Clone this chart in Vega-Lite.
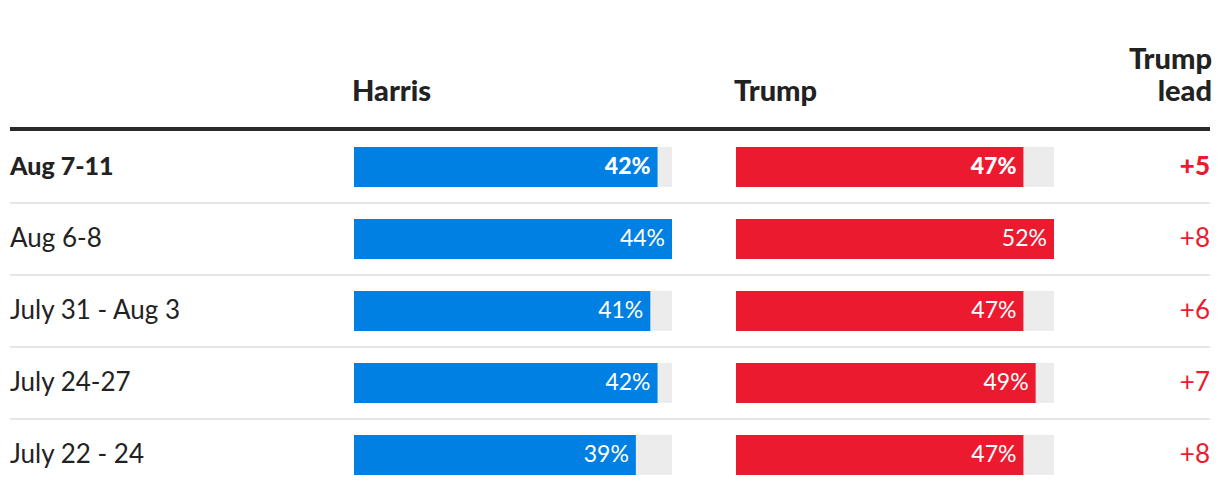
{
  "$schema": "https://vega.github.io/schema/vega-lite/v6.json",
  "background": "white",
  "padding": {"left": 8, "right": 8, "top": 46, "bottom": 6},
  "bounds": "flush",
  "spacing": 0,
  "config": {
    "view": {"stroke": null},
    "font": "Lato",
    "title": {"font": "Lato", "fontSize": 29, "fontWeight": 900, "color": "#222222", "lineHeight": 32, "offset": 20, "baseline": "alphabetic"}
  },
  "data": {
    "values": [
      {"label": "Aug 7-11", "harris": 0.42, "trump": 0.47, "lead": 5},
      {"label": "Aug 6-8", "harris": 0.44, "trump": 0.52, "lead": 8},
      {"label": "July 31 - Aug 3", "harris": 0.41, "trump": 0.47, "lead": 6},
      {"label": "July 24-27", "harris": 0.42, "trump": 0.49, "lead": 7},
      {"label": "July 22 - 24", "harris": 0.39, "trump": 0.47, "lead": 8}
    ]
  },
  "hconcat": [
    {
      "width": 344,
      "height": 360,
      "layer": [
        {"mark": {"type": "rule", "color": "#2b2b2b", "strokeWidth": 4, "yOffset": -2},
         "transform": [{"filter": "datum.label === 'Aug 7-11'"}],
         "encoding": {"y": {"field": "label", "type": "nominal", "bandPosition": 0, "axis": null, "scale": {"type": "band", "domain": ["Aug 7-11", "Aug 6-8", "July 31 - Aug 3", "July 24-27", "July 22 - 24"], "paddingInner": 0, "paddingOuter": 0}}}},
        {"mark": {"type": "rule", "color": "#e6e6e6", "strokeWidth": 2},
         "transform": [{"filter": "datum.label !== 'July 22 - 24'"}],
         "encoding": {"y": {"field": "label", "type": "nominal", "bandPosition": 1, "axis": null}}},
        {"mark": {"type": "text", "align": "left", "baseline": "middle", "fontSize": 25, "fontWeight": 900, "color": "#222222"},
         "transform": [{"filter": "datum.label === 'Aug 7-11'"}],
         "encoding": {"y": {"field": "label", "type": "nominal", "axis": null}, "x": {"value": 0}, "text": {"field": "label"}}},
        {"mark": {"type": "text", "align": "left", "baseline": "middle", "fontSize": 26, "color": "#222222"},
         "transform": [{"filter": "datum.label !== 'Aug 7-11'"}],
         "encoding": {"y": {"field": "label", "type": "nominal", "axis": null}, "x": {"value": 0}, "text": {"field": "label"}}}
      ]
    },
    {
      "width": 382,
      "height": 360,
      "title": {"text": "Harris", "anchor": "start"},
      "transform": [{"joinaggregate": [{"op": "max", "field": "harris", "as": "hmax"}]}],
      "layer": [
        {"mark": {"type": "rule", "color": "#2b2b2b", "strokeWidth": 4, "yOffset": -2},
         "transform": [{"filter": "datum.label === 'Aug 7-11'"}],
         "encoding": {"y": {"field": "label", "type": "nominal", "bandPosition": 0, "axis": null, "scale": {"type": "band", "domain": ["Aug 7-11", "Aug 6-8", "July 31 - Aug 3", "July 24-27", "July 22 - 24"], "paddingInner": 0, "paddingOuter": 0}}}},
        {"mark": {"type": "rule", "color": "#e6e6e6", "strokeWidth": 2},
         "transform": [{"filter": "datum.label !== 'July 22 - 24'"}],
         "encoding": {"y": {"field": "label", "type": "nominal", "bandPosition": 1, "axis": null}}},
        {"mark": {"type": "bar", "color": "#ececec", "height": 40},
         "encoding": {"y": {"field": "label", "type": "nominal", "axis": null}, "x": {"field": "hmax", "type": "quantitative", "axis": null, "scale": {"domain": [0, 0.52855], "nice": false, "zero": true}}}},
        {"mark": {"type": "bar", "color": "#0080e3", "height": 40},
         "encoding": {"y": {"field": "label", "type": "nominal", "axis": null}, "x": {"field": "harris", "type": "quantitative", "axis": null}}},
        {"mark": {"type": "text", "align": "right", "baseline": "middle", "dx": -7, "fontSize": 23, "fontWeight": 900, "color": "white"},
         "transform": [{"filter": "datum.label === 'Aug 7-11'"}],
         "encoding": {"y": {"field": "label", "type": "nominal", "axis": null}, "x": {"field": "harris", "type": "quantitative", "axis": null}, "text": {"field": "harris", "format": ".0%"}}},
        {"mark": {"type": "text", "align": "right", "baseline": "middle", "dx": -7, "fontSize": 23, "color": "white"},
         "transform": [{"filter": "datum.label !== 'Aug 7-11'"}],
         "encoding": {"y": {"field": "label", "type": "nominal", "axis": null}, "x": {"field": "harris", "type": "quantitative", "axis": null}, "text": {"field": "harris", "format": ".0%"}}}
      ]
    },
    {
      "width": 382,
      "height": 360,
      "title": {"text": "Trump", "anchor": "start"},
      "transform": [{"joinaggregate": [{"op": "max", "field": "trump", "as": "tmax"}]}],
      "layer": [
        {"mark": {"type": "rule", "color": "#2b2b2b", "strokeWidth": 4, "yOffset": -2},
         "transform": [{"filter": "datum.label === 'Aug 7-11'"}],
         "encoding": {"y": {"field": "label", "type": "nominal", "bandPosition": 0, "axis": null, "scale": {"type": "band", "domain": ["Aug 7-11", "Aug 6-8", "July 31 - Aug 3", "July 24-27", "July 22 - 24"], "paddingInner": 0, "paddingOuter": 0}}}},
        {"mark": {"type": "rule", "color": "#e6e6e6", "strokeWidth": 2},
         "transform": [{"filter": "datum.label !== 'July 22 - 24'"}],
         "encoding": {"y": {"field": "label", "type": "nominal", "bandPosition": 1, "axis": null}}},
        {"mark": {"type": "bar", "color": "#ececec", "height": 40},
         "encoding": {"y": {"field": "label", "type": "nominal", "axis": null}, "x": {"field": "tmax", "type": "quantitative", "axis": null, "scale": {"domain": [0, 0.62466], "nice": false, "zero": true}}}},
        {"mark": {"type": "bar", "color": "#ec1a2f", "height": 40},
         "encoding": {"y": {"field": "label", "type": "nominal", "axis": null}, "x": {"field": "trump", "type": "quantitative", "axis": null}}},
        {"mark": {"type": "text", "align": "right", "baseline": "middle", "dx": -7, "fontSize": 23, "fontWeight": 900, "color": "white"},
         "transform": [{"filter": "datum.label === 'Aug 7-11'"}],
         "encoding": {"y": {"field": "label", "type": "nominal", "axis": null}, "x": {"field": "trump", "type": "quantitative", "axis": null}, "text": {"field": "trump", "format": ".0%"}}},
        {"mark": {"type": "text", "align": "right", "baseline": "middle", "dx": -7, "fontSize": 23, "color": "white"},
         "transform": [{"filter": "datum.label !== 'Aug 7-11'"}],
         "encoding": {"y": {"field": "label", "type": "nominal", "axis": null}, "x": {"field": "trump", "type": "quantitative", "axis": null}, "text": {"field": "trump", "format": ".0%"}}}
      ]
    },
    {
      "width": 92,
      "height": 360,
      "title": {"text": ["Trump", "lead"], "anchor": "end"},
      "layer": [
        {"mark": {"type": "rule", "color": "#2b2b2b", "strokeWidth": 4, "yOffset": -2},
         "transform": [{"filter": "datum.label === 'Aug 7-11'"}],
         "encoding": {"y": {"field": "label", "type": "nominal", "bandPosition": 0, "axis": null, "scale": {"type": "band", "domain": ["Aug 7-11", "Aug 6-8", "July 31 - Aug 3", "July 24-27", "July 22 - 24"], "paddingInner": 0, "paddingOuter": 0}}}},
        {"mark": {"type": "rule", "color": "#e6e6e6", "strokeWidth": 2},
         "transform": [{"filter": "datum.label !== 'July 22 - 24'"}],
         "encoding": {"y": {"field": "label", "type": "nominal", "bandPosition": 1, "axis": null}}},
        {"mark": {"type": "text", "align": "right", "baseline": "middle", "fontSize": 26, "fontWeight": 900, "color": "#ec1a2f"},
         "transform": [{"filter": "datum.label === 'Aug 7-11'"}],
         "encoding": {"y": {"field": "label", "type": "nominal", "axis": null}, "x": {"value": "width"}, "text": {"field": "lead", "format": "+d"}}},
        {"mark": {"type": "text", "align": "right", "baseline": "middle", "fontSize": 26, "color": "#ec1a2f"},
         "transform": [{"filter": "datum.label !== 'Aug 7-11'"}],
         "encoding": {"y": {"field": "label", "type": "nominal", "axis": null}, "x": {"value": "width"}, "text": {"field": "lead", "format": "+d"}}}
      ]
    }
  ]
}
